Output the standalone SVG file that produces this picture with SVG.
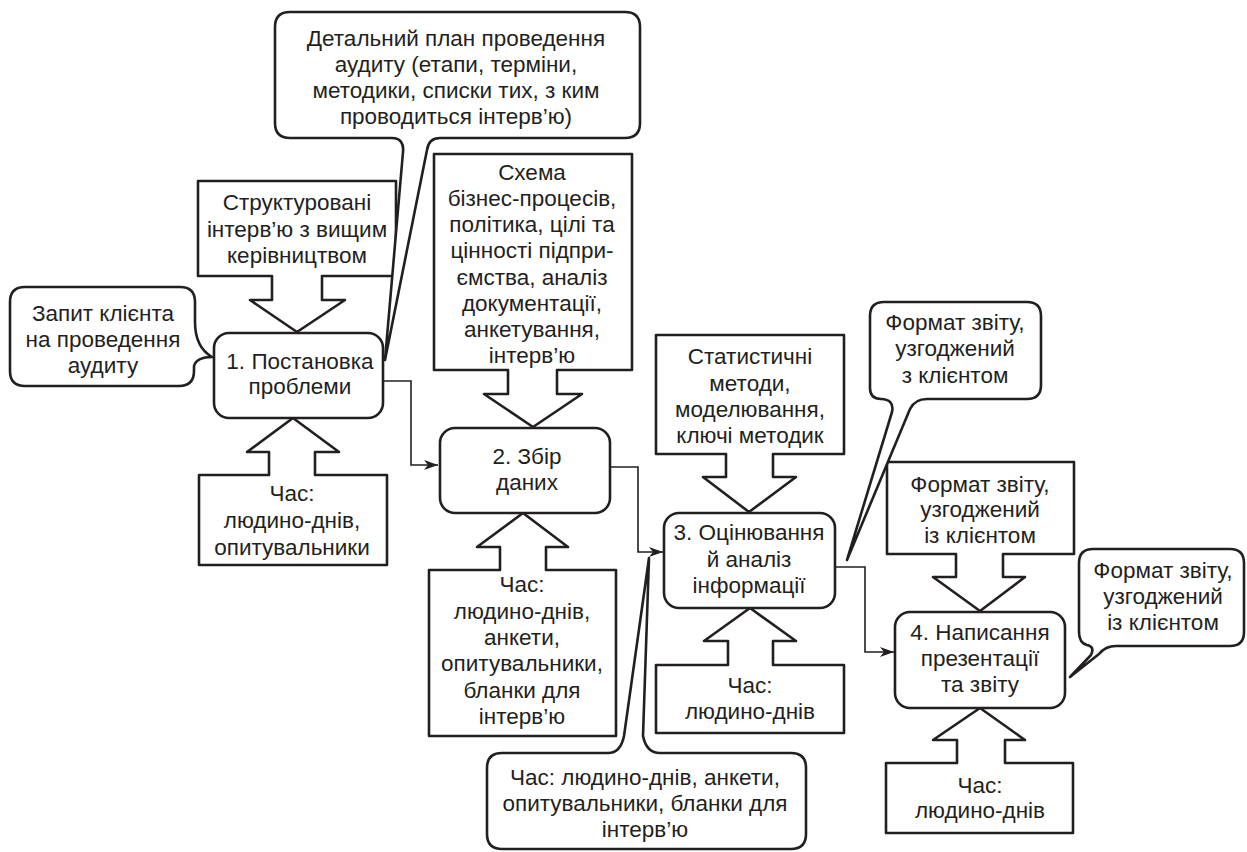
<svg xmlns="http://www.w3.org/2000/svg" width="1247" height="852" viewBox="0 0 1247 852">
<style>
.sh{fill:#fff;stroke:#231f20;stroke-width:2.6;stroke-linejoin:round}
.cn{fill:none;stroke:#231f20;stroke-width:1.6}
text{font-family:"Liberation Sans",Arial,sans-serif;font-size:22.5px;fill:#231f20;text-anchor:middle}
</style>
<defs>
<marker id="ah" markerUnits="userSpaceOnUse" markerWidth="16" markerHeight="12" refX="14" refY="5" orient="auto">
<path d="M0,0 L14,5 L0,10 L4,5 Z" fill="#231f20"/>
</marker>
</defs>
<rect width="1247" height="852" fill="#fff"/>

<g id="connectors">
<path class="cn" d="M383,381 H411 V465 H438" marker-end="url(#ah)"/>
<path class="cn" d="M610,467 H638 V552 H663" marker-end="url(#ah)"/>
<path class="cn" d="M835,567 H865 V652 H894" marker-end="url(#ah)"/>
</g>

<g id="in-structured">
<polygon class="sh" points="198,181 396,181 396,276 322,276 322,300 345,300 297,332 250,300 272,300 272,276 198,276"/>
<text x="297" y="210">Структуровані</text>
<text x="297" y="236.5">інтерв’ю з вищим</text>
<text x="297" y="262.5">керівництвом</text>
</g>

<g id="res-1">
<polygon class="sh" points="199,475 269,475 269,452 247,452 293,418 339,452 315,452 315,475 387,475 387,565 199,565"/>
<text x="292" y="501">Час:</text>
<text x="292" y="528">людино-днів,</text>
<text x="292" y="554.5">опитувальники</text>
</g>

<g id="in-scheme">
<polygon class="sh" points="434,154 632,154 632,370 557,370 557,394 582,394 533,427 484,394 508,394 508,370 434,370"/>
<text x="532" y="179.5">Схема</text>
<text x="532" y="206">бізнес-процесів,</text>
<text x="532" y="232">політика, цілі та</text>
<text x="532" y="258">цінності підпри-</text>
<text x="532" y="284.5">ємства, аналіз</text>
<text x="532" y="311">документації,</text>
<text x="532" y="337">анкетування,</text>
<text x="532" y="363">інтерв’ю</text>
</g>

<g id="res-2">
<polygon class="sh" points="429,570 500,570 500,547 477,547 523,513 568,547 546,547 546,570 616,570 616,736 429,736"/>
<text x="522" y="592">Час:</text>
<text x="522" y="618.5">людино-днів,</text>
<text x="522" y="645">анкети,</text>
<text x="522" y="671">опитувальники,</text>
<text x="522" y="697.5">бланки для</text>
<text x="522" y="724">інтерв’ю</text>
</g>

<g id="in-stat">
<polygon class="sh" points="656,335 844,335 844,454 773,454 773,477 796,477 749,512 703,477 726,477 726,454 656,454"/>
<text x="750" y="364">Статистичні</text>
<text x="750" y="390.5">методи,</text>
<text x="750" y="416.5">моделювання,</text>
<text x="750" y="443">ключі методик</text>
</g>

<g id="res-3">
<polygon class="sh" points="656,665 728,665 728,641 704,641 750,608 796,641 773,641 773,665 844,665 844,733 656,733"/>
<text x="750" y="692.5">Час:</text>
<text x="750" y="718.5">людино-днів</text>
</g>

<g id="in-format">
<polygon class="sh" points="887,462 1074,462 1074,554 1003,554 1003,577 1025,577 980,611 933,577 956,577 956,554 887,554"/>
<text x="980" y="491.5">Формат звіту,</text>
<text x="980" y="517">узгоджений</text>
<text x="980" y="542.5">із клієнтом</text>
</g>

<g id="res-4">
<polygon class="sh" points="886,763 957,763 957,740 933,740 980,708 1025,740 1005,740 1005,763 1073,763 1073,833 886,833"/>
<text x="980" y="792.5">Час:</text>
<text x="980" y="818">людино-днів</text>
</g>

<g id="step-1">
<rect class="sh" x="214" y="333" width="169" height="85" rx="15"/>
<text x="300" y="368.5">1. Постановка</text>
<text x="300" y="394">проблеми</text>
</g>

<g id="step-2">
<rect class="sh" x="440" y="428" width="170" height="85" rx="15"/>
<text x="527" y="464">2. Збір</text>
<text x="527" y="490">даних</text>
</g>

<g id="step-3">
<rect class="sh" x="664" y="513" width="171" height="95" rx="15"/>
<text x="749" y="540">3. Оцінювання</text>
<text x="749" y="566.5">й аналіз</text>
<text x="749" y="593">інформації</text>
</g>

<g id="step-4">
<rect class="sh" x="895" y="612" width="170" height="96" rx="15"/>
<text x="980" y="640">4. Написання</text>
<text x="980" y="666">презентації</text>
<text x="980" y="692">та звіту</text>
</g>

<g id="callout-request">
<path class="sh" d="M25,287 H180 Q195,287 195,302 V322 C195,338 200,350 212,357 C203,357 196,359 194,366 V371 Q194,386 179,386 H25 Q10,386 10,371 V302 Q10,287 25,287 Z"/>
<text x="103" y="321">Запит клієнта</text>
<text x="103" y="347">на проведення</text>
<text x="103" y="373">аудиту</text>
</g>

<g id="callout-plan">
<path class="sh" d="M290,12 H625 Q640,12 640,27 V123 Q640,138 625,138 H440 C432,138 428,143 427,150 L385,360 L403,152 C404,143 400,138 392,138 H290 Q275,138 275,123 V27 Q275,12 290,12 Z"/>
<text x="456" y="45.5">Детальний план проведення</text>
<text x="456" y="71.5">аудиту (етапи, терміни,</text>
<text x="456" y="97.5">методики, списки тих, з ким</text>
<text x="456" y="123.5">проводиться інтерв’ю)</text>
</g>

<g id="callout-format-1">
<path class="sh" d="M884,302 H1027 Q1041,302 1041,316 V385 Q1041,399 1027,399 H927 C918,399 913,403 910,409 L847,560 L892,412 C894,403 889,399 881,399 Q870,399 870,388 V316 Q870,302 884,302 Z"/>
<text x="955" y="329.5">Формат звіту,</text>
<text x="955" y="356">узгоджений</text>
<text x="955" y="382.5">з клієнтом</text>
</g>

<g id="callout-format-3">
<path class="sh" d="M1093,549 H1230 Q1244,549 1244,563 V632 Q1244,646 1230,646 H1116 C1108,646 1103,649 1099,654 L1070,677 L1091,655 C1094,649 1092,646 1087,645 Q1079,643 1079,632 V563 Q1079,549 1093,549 Z"/>
<text x="1163" y="578">Формат звіту,</text>
<text x="1163" y="604">узгоджений</text>
<text x="1163" y="630">із клієнтом</text>
</g>

<g id="callout-time">
<path class="sh" d="M502,753 H608 C617,753 622,746 624,736 L649,558 L643,736 C645,746 650,753 660,753 H791 Q806,753 806,768 V834 Q806,849 791,849 H502 Q487,849 487,834 V768 Q487,753 502,753 Z"/>
<text x="645" y="785">Час: людино-днів, анкети,</text>
<text x="645" y="811">опитувальники, бланки для</text>
<text x="645" y="837">інтерв’ю</text>
</g>
</svg>
